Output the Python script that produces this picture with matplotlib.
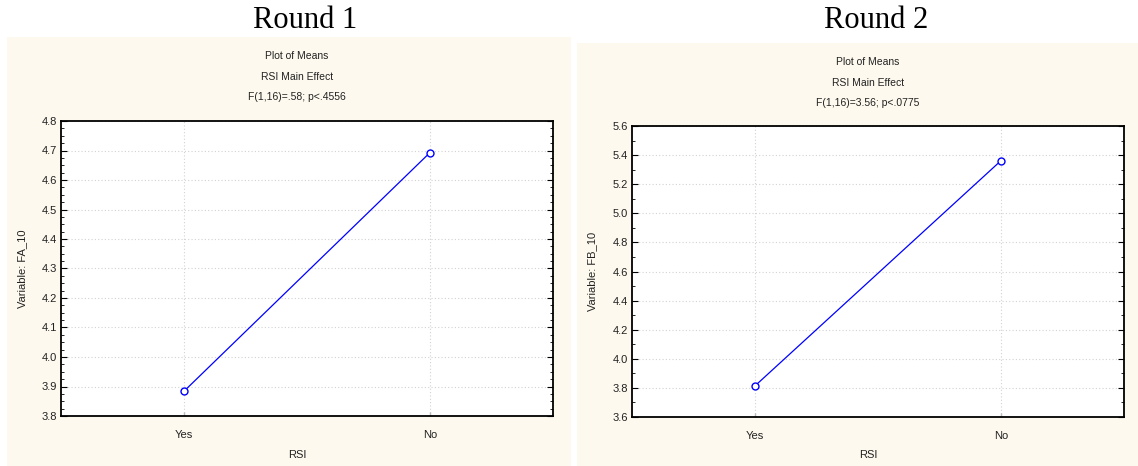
import matplotlib
matplotlib.use("Agg")
import matplotlib.pyplot as plt
from matplotlib.patches import Rectangle
from matplotlib.ticker import MultipleLocator, FormatStrFormatter

# Means for the RSI main effect in each round
categories = ["Yes", "No"]
round1_means = [3.884, 4.693]
round2_means = [3.814, 5.362]

round_titles = ["Round 1", "Round 2"]
effect_stats = ["F(1,16)=.58; p<.4556", "F(1,16)=3.56; p<.0775"]
variable_names = ["FA_10", "FB_10"]
y_limits = [(3.8, 4.8), (3.6, 5.6)]
y_major = [0.1, 0.2]
y_minor = [0.025, 0.1]

W, H = 1138, 466
fig = plt.figure(figsize=(W / 100, H / 100), dpi=100)
fig.patch.set_facecolor("white")

cream = "#FDF9EE"
font = ["Liberation Sans", "DejaVu Sans"]

# panel geometry in pixels: cream box, axes box, text centre, heading centre
panels = [
    dict(box=(7, 37, 571, 466), ax=(61, 121, 553, 416), cx=297, ylab_x=22, hx=305),
    dict(box=(577, 43, 1138, 466), ax=(632, 126, 1124, 417), cx=868, ylab_x=592, hx=876),
]
series = [round1_means, round2_means]

for i, p in enumerate(panels):
    x0, y0, x1, y1 = p["box"]
    fig.patches.append(Rectangle((x0 / W, 1 - y1 / H), (x1 - x0) / W, (y1 - y0) / H,
                                 transform=fig.transFigure, facecolor=cream,
                                 edgecolor="none", zorder=-10))
    ax0, ay0, ax1, ay1 = p["ax"]
    ax = fig.add_axes([ax0 / W, 1 - ay1 / H, (ax1 - ax0) / W, (ay1 - ay0) / H])
    ax.set_zorder(5)
    ax.set_facecolor("white")

    xs = list(range(len(categories)))
    ax.plot(xs, series[i], color="#0000FF", lw=0.9, marker="o", ms=5,
            mfc="white", mec="#0000FF", mew=1.0, zorder=3)

    ax.set_xlim(-0.5, len(categories) - 0.5)
    ax.set_ylim(*y_limits[i])
    ax.set_xticks(xs)
    ax.set_xticklabels(categories)
    ax.yaxis.set_major_locator(MultipleLocator(y_major[i]))
    ax.yaxis.set_minor_locator(MultipleLocator(y_minor[i]))
    ax.yaxis.set_major_formatter(FormatStrFormatter("%.1f"))

    ax.grid(True, which="major", color="#D2D2D2", linestyle=(0, (1, 2)), lw=0.8)
    ax.tick_params(axis="y", which="both", direction="in", left=True, right=True,
                   labelsize=8, color="black", pad=3)
    ax.tick_params(axis="y", which="major", length=4, width=0.8)
    ax.tick_params(axis="y", which="minor", length=2.5, width=0.6)
    ax.tick_params(axis="x", which="both", direction="in", length=3, width=1,
                   color="#BBBBBB", labelsize=8, pad=10, top=False)
    for lab in ax.get_xticklabels() + ax.get_yticklabels():
        lab.set_family(font)
        lab.set_color("#222222")
    for s in ax.spines.values():
        s.set_linewidth(1.3)
        s.set_color("black")

    fig.text(p["cx"] / W, 1 - (y0 + 19) / H, "Plot of Means", ha="center", va="center",
             fontsize=7.5, family=font, color="#222222")
    fig.text(p["cx"] / W, 1 - (y0 + 40) / H, "RSI Main Effect", ha="center", va="center",
             fontsize=7.5, family=font, color="#222222")
    fig.text(p["cx"] / W, 1 - (y0 + 60) / H, effect_stats[i], ha="center", va="center",
             fontsize=7.5, family=font, color="#222222")
    fig.text(p["cx"] / W, 1 - 455 / H, "RSI", ha="center", va="center",
             fontsize=8, family=font, color="#222222")
    fig.text(p["ylab_x"] / W, 1 - ((ay0 + ay1) / 2) / H, "Variable: " + variable_names[i],
             ha="center", va="center", rotation=90, fontsize=8, family=font,
             color="#222222")
    fig.text(p["hx"] / W, 1 - 20 / H, round_titles[i], ha="center", va="center",
             fontsize=22, family=["Liberation Serif", "DejaVu Serif"], color="black")

fig.savefig("out.png", dpi=100, facecolor="white")
